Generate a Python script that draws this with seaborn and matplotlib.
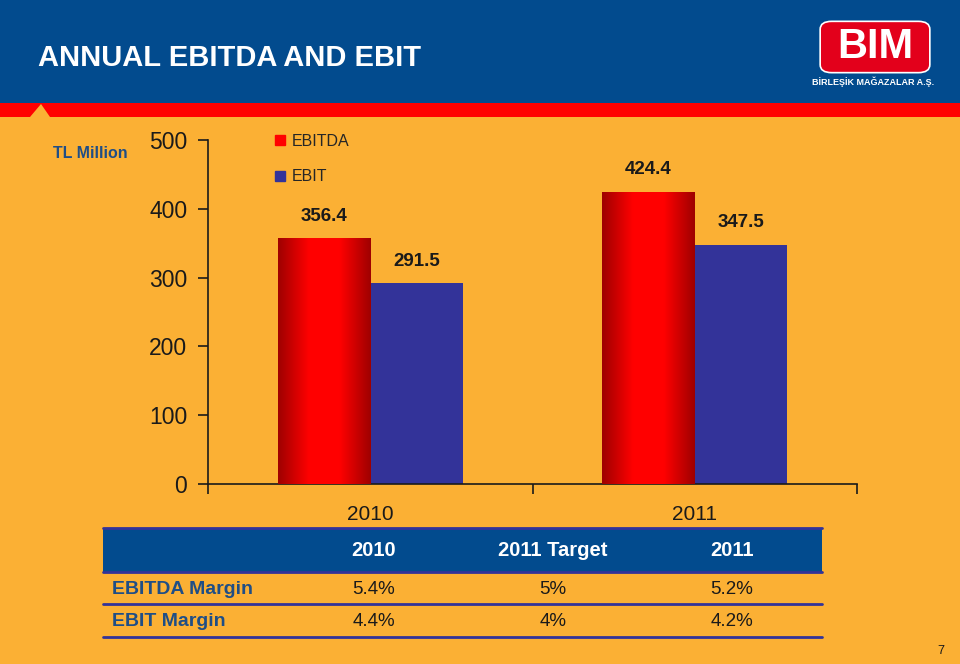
import numpy as np
import pandas as pd
import matplotlib
matplotlib.use("Agg")
import matplotlib.pyplot as plt
import seaborn as sns
from matplotlib.patches import Rectangle, Polygon, FancyBboxPatch
from matplotlib.lines import Line2D
from matplotlib.colors import LinearSegmentedColormap

# values
years = ["2010", "2011"]
ebitda = [356.4, 424.4]
ebit = [291.5, 347.5]
metrics = ["EBITDA", "EBIT"]

table_cols = ["2010", "2011 Target", "2011"]
table_rows = ["EBITDA Margin", "EBIT Margin"]
ebitda_margin = ["5.4%", "5%", "5.2%"]
ebit_margin = ["4.4%", "4%", "4.2%"]

ORANGE = "#FBB034"
NAVY = "#024B8E"
RED = "#FF0000"
PURPLE = "#333399"
TXT_BLUE = "#1F4E86"

df = pd.DataFrame({
    "year": years * 2,
    "value": ebitda + ebit,
    "metric": [metrics[0]] * len(years) + [metrics[1]] * len(years),
})

sns.set_style("white")
plt.rcParams["font.family"] = ["Liberation Sans", "DejaVu Sans"]

W, H = 960, 664
fig = plt.figure(figsize=(W / 100, H / 100), dpi=100, facecolor=ORANGE)


def fx(px):
    return px / W


def fy(py):
    return 1 - py / H


# header band, red stripe and the little notch
fig.patches.append(Rectangle((0, fy(103)), 1, 103 / H, transform=fig.transFigure,
                             facecolor=NAVY, edgecolor="none", zorder=0))
fig.patches.append(Rectangle((0, fy(117)), 1, 14 / H, transform=fig.transFigure,
                             facecolor=RED, edgecolor="none", zorder=0))
fig.patches.append(Polygon([(fx(30), fy(117)), (fx(41), fy(104)), (fx(50), fy(117))],
                           closed=True, transform=fig.transFigure,
                           facecolor=ORANGE, edgecolor="none", zorder=1))
fig.text(fx(38), fy(58), "ANNUAL EBITDA AND EBIT", color="white", fontsize=21,
         fontweight="bold", va="center", ha="left")

# logo block
fig.patches.append(FancyBboxPatch((fx(824), fy(70)), fx(102), 46 / H,
                                  boxstyle="round,pad=0.004,rounding_size=0.012",
                                  transform=fig.transFigure, facecolor="#E3001B",
                                  edgecolor="white", linewidth=1.2, zorder=1))
fig.text(fx(875), fy(47), "BIM", color="white", fontsize=30, fontweight="bold",
         ha="center", va="center")
fig.text(fx(873), fy(82), "BİRLEŞİK MAĞAZALAR A.Ş.", color="white", fontsize=6.5,
         fontweight="bold", ha="center", va="center")

fig.text(fx(90), fy(153), "TL Million", color=TXT_BLUE, fontsize=11.5,
         fontweight="bold", ha="center", va="center")

# chart
ax = fig.add_axes([fx(208), fy(484), fx(857 - 208), (484 - 140) / H])
ax.set_facecolor("none")
sns.barplot(data=df, x="year", y="value", hue="metric", hue_order=metrics,
            palette=[RED, PURPLE], width=0.57, saturation=1, ax=ax, legend=False)

grad = LinearSegmentedColormap.from_list("redbar", ["#9E0000", "#FF0000", "#FF0000", "#9E0000"])
ramp = np.linspace(0, 1, 256).reshape(1, -1)
bars = ax.patches
for i, p in enumerate(bars):
    p.set_edgecolor("none")
    x0, w, h = p.get_x(), p.get_width(), p.get_height()
    if i < len(years):
        ax.imshow(ramp, cmap=grad, extent=[x0, x0 + w, 0, h], aspect="auto", zorder=3)
    ax.text(x0 + w / 2, h + 20, f"{h:.1f}", ha="center", va="bottom",
            fontsize=13.5, fontweight="bold", color="#1a1a1a", zorder=4)

ax.set_xlim(-0.5, 1.5)
ax.set_ylim(0, 500)
ax.set_yticks([0, 100, 200, 300, 400, 500])
ax.tick_params(axis="y", labelsize=16.5, length=7, width=1.2, color="#1a1a1a",
               pad=8, labelcolor="#1a1a1a", left=True)
ax.set_xticks([-0.5, 0.5, 1.5])
ax.set_xticklabels([])
ax.set_xticks([0, 1], minor=True)
ax.set_xticklabels(years, minor=True)
ax.tick_params(axis="x", which="major", length=7, width=1.2, color="#1a1a1a", bottom=True)
ax.tick_params(axis="x", which="minor", length=0, labelsize=15, pad=15,
               labelcolor="#1a1a1a")
ax.set_xlabel("")
ax.set_ylabel("")
sns.despine(ax=ax)
for s in ("left", "bottom"):
    ax.spines[s].set_color("#1a1a1a")
    ax.spines[s].set_linewidth(1.2)

handles = [Line2D([], [], marker="s", linestyle="none", markersize=7, color=c)
           for c in (RED, PURPLE)]
ax.legend(handles, metrics, loc="upper left", bbox_to_anchor=(0.079, 1.06),
          frameon=False, handlelength=0.8, handletextpad=0.35, labelspacing=1.3,
          fontsize=11.5)

# margin table
fig.patches.append(Rectangle((fx(103), fy(572)), fx(822 - 103), 44 / H,
                             transform=fig.transFigure, facecolor=NAVY,
                             edgecolor="none", zorder=1))
for px in (528, 572, 604, 637):
    fig.add_artist(Line2D([fx(103), fx(822)], [fy(px), fy(px)], color=PURPLE, linewidth=2))
col_x = [374, 553, 732]
for cx, lab in zip(col_x, table_cols):
    fig.text(fx(cx), fy(551), lab, color="white", fontsize=14.5, fontweight="bold",
             ha="center", va="center")
for ry, name, vals in zip((590, 622), table_rows, (ebitda_margin, ebit_margin)):
    fig.text(fx(112), fy(ry), name, color=TXT_BLUE, fontsize=14, fontweight="bold",
             ha="left", va="center")
    for cx, v in zip(col_x, vals):
        fig.text(fx(cx), fy(ry), v, color="#1a1a1a", fontsize=13.5, ha="center", va="center")

fig.text(fx(941), fy(651), "7", fontsize=9, color="#1a1a1a", ha="center", va="center")

fig.savefig("out.png", dpi=100, facecolor=ORANGE)
